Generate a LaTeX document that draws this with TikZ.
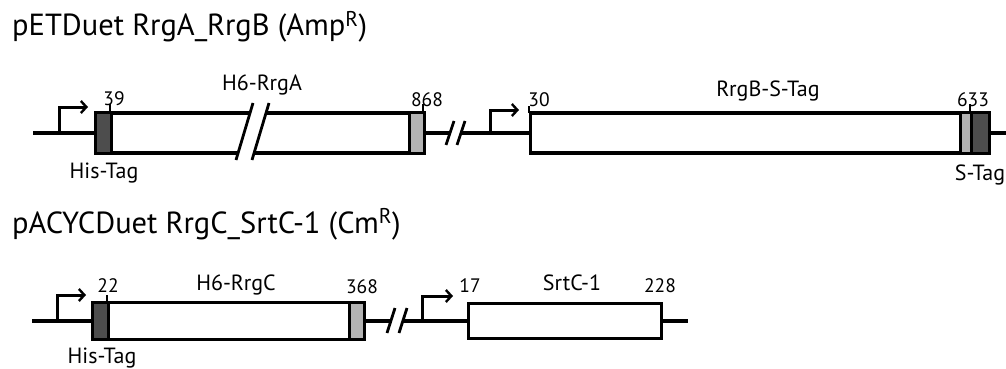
\documentclass[tikz,border=0pt]{standalone}
\usepackage{fontspec}
\setmainfont{PT Sans}
\usetikzlibrary{arrows.meta}
\definecolor{darktag}{HTML}{4D4D4D}
\definecolor{lighttag}{HTML}{B3B3B3}
\begin{document}
\begin{tikzpicture}[x=1pt,y=-1pt,
  bb/.style={line width=3.2pt},
  genebox/.style={draw, line width=3.2pt, fill=white, inner sep=0pt, anchor=west},
  dtag/.style={draw, line width=2.6pt, fill=darktag, inner sep=0pt, anchor=west},
  ltag/.style={draw, line width=2.6pt, fill=lighttag, inner sep=0pt, anchor=west},
  tick/.style={line width=1.6pt},
  num/.style={font=\fontsize{19.5}{19.5}\selectfont, inner sep=0pt, anchor=base},
  lbl/.style={font=\fontsize{22}{22}\selectfont, inner sep=0pt, anchor=base},
  ttl/.style={font=\fontsize{30.5}{30.5}\selectfont, inner sep=0pt, anchor=base west},
  prom/.style={line width=3pt, -{Straight Barb[length=5.5pt,width=12pt,line width=2.4pt]}},
  slash/.style={line width=2.8pt}]
\useasboundingbox (0,0) rectangle (1006,369);

% titles
\node[ttl] (t1) at (12,36) {pETDuet RrgA\_RrgB (Amp\textsuperscript{R})};
\node[ttl] (t2) at (12,233) {pACYCDuet RrgC\_SrtC-1 (Cm\textsuperscript{R})};

% ---------- top row ----------
\coordinate (s1) at (33,133);
\coordinate (p1) at (59,133);
\coordinate (p1e) at (88,107);
\coordinate (g1a) at (450,133);
\coordinate (g1b) at (461,133);
\coordinate (p2) at (490,133);
\coordinate (p2e) at (519,110);
\coordinate (e1) at (1006,133);

\draw[bb] (s1) -- (94,133);
\draw[bb] (423,133) -- (g1a);
\draw[bb] (g1b) -- (529,133);
\draw[bb] (988,133) -- (e1);
\draw[slash] (446,145) -- (454,121);
\draw[slash] (457,145) -- (465,121);
\draw[prom] (p1) |- (p1e);
\draw[prom] (p2) |- (p2e);

\node[genebox, minimum width=329pt, minimum height=40pt] (A) at (94,133) {};
\node[dtag, minimum width=16pt, minimum height=40pt] (hisA) at (94,133) {};
\node[ltag, minimum width=15pt, minimum height=40pt] (endA) at (408,133) {};
% break in RrgA box
\fill[white] (236,160) -- (253,103) -- (269,103) -- (252,160) -- cycle;
\draw[slash] (236,160) -- (253,103);
\draw[slash] (252,160) -- (269,103);

\node[genebox, minimum width=459pt, minimum height=40pt] (B) at (529,133) {};
\node[ltag, minimum width=11pt, minimum height=40pt] (sB) at (959,133) {};
\node[dtag, minimum width=18pt, minimum height=40pt] (sB2) at (970,133) {};

\draw[tick] (110,113) -- (110,104);
\draw[tick] (423,113) -- (423,104);
\draw[tick] (529,113) -- (529,106);
\draw[tick] (970,113) -- (970,104);

\node[num] (n39) at (114,105) {39};
\node[num] (n868) at (427,106) {868};
\node[lbl] (lA) at (262,90) {H6-RrgA};
\node[lbl] (hA) at (104,178) {His-Tag};
\node[num] (n30) at (539,106) {30};
\node[lbl] (lB) at (768,96) {RrgB-S-Tag};
\node[num] (n633) at (973,106) {633};
\node[lbl] (sT) at (980,180) {S-Tag};

% ---------- bottom row ----------
\coordinate (s2) at (32,321);
\coordinate (p3) at (57,321);
\coordinate (p3e) at (86,295);
\coordinate (g2a) at (391,321);
\coordinate (g2b) at (403,321);
\coordinate (p4) at (422,321);
\coordinate (p4e) at (453,296);
\coordinate (e2) at (688,321);

\draw[bb] (s2) -- (91,321);
\draw[bb] (363,321) -- (g2a);
\draw[bb] (g2b) -- (467,321);
\draw[bb] (660,321) -- (e2);
\draw[slash] (387,333) -- (395,308);
\draw[slash] (399,333) -- (407,308);
\draw[prom] (p3) |- (p3e);
\draw[prom] (p4) |- (p4e);

\node[genebox, minimum width=272pt, minimum height=37pt] (C) at (91,321) {};
\node[dtag, minimum width=16pt, minimum height=37pt] (hisC) at (91,321) {};
\node[ltag, minimum width=15pt, minimum height=37pt] (endC) at (348,321) {};
\node[genebox, minimum width=193pt, minimum height=35pt] (D) at (467,321) {};

\draw[tick] (107,302) -- (107,295);

\node[num] (n22) at (108,292) {22};
\node[lbl] (lC) at (236,290) {H6-RrgC};
\node[num] (n368) at (362,293) {368};
\node[num] (n17) at (470,292) {17};
\node[lbl] (lD) at (572,290) {SrtC-1};
\node[num] (n228) at (660,292) {228};
\node[lbl] (hC) at (102,363) {His-Tag};
\end{tikzpicture}
\end{document}
